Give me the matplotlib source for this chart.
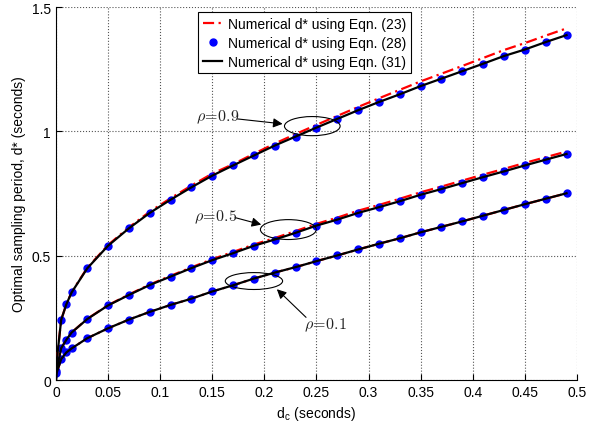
import matplotlib as mpl
import matplotlib.pyplot as plt
from matplotlib.patches import Ellipse

# sampled delay values, d_c [s]
d_c = [0.0005, 0.005, 0.01, 0.015, 0.03, 0.05, 0.07, 0.09, 0.11, 0.13, 0.15,
       0.17, 0.19, 0.21, 0.23, 0.25, 0.27, 0.29, 0.31, 0.33, 0.35, 0.37,
       0.39, 0.41, 0.43, 0.45, 0.47, 0.49]

# optimal sampling period d* (eqn 31 / eqn 28 points)
d_09 = [0.068, 0.242, 0.305, 0.352, 0.449, 0.540, 0.610, 0.672, 0.725, 0.775,
        0.822, 0.863, 0.903, 0.943, 0.979, 1.015, 1.050, 1.085, 1.118, 1.149,
        1.182, 1.212, 1.242, 1.272, 1.303, 1.329, 1.359, 1.387]
d_05 = [0.037, 0.128, 0.162, 0.191, 0.245, 0.300, 0.342, 0.382, 0.416, 0.450,
        0.482, 0.510, 0.540, 0.565, 0.592, 0.621, 0.645, 0.672, 0.695, 0.719,
        0.745, 0.768, 0.792, 0.816, 0.839, 0.863, 0.886, 0.909]
d_01 = [0.027, 0.084, 0.111, 0.127, 0.168, 0.208, 0.243, 0.274, 0.302, 0.327,
        0.356, 0.381, 0.408, 0.432, 0.454, 0.478, 0.501, 0.525, 0.548, 0.570,
        0.594, 0.616, 0.638, 0.661, 0.684, 0.707, 0.729, 0.751]

# eqn 23 (slightly above for large d_c)
e23_09 = [0.068, 0.242, 0.305, 0.353, 0.451, 0.543, 0.614, 0.677, 0.731, 0.782,
          0.830, 0.868, 0.910, 0.951, 0.989, 1.026, 1.062, 1.098, 1.133, 1.167,
          1.201, 1.232, 1.263, 1.295, 1.327, 1.355, 1.385, 1.414]
e23_05 = [0.037, 0.128, 0.162, 0.191, 0.246, 0.301, 0.344, 0.384, 0.419, 0.453,
          0.486, 0.515, 0.545, 0.571, 0.599, 0.628, 0.653, 0.681, 0.704, 0.729,
          0.755, 0.778, 0.802, 0.826, 0.849, 0.873, 0.896, 0.919]
e23_01 = d_01

curves = [(e23_09, d_09), (e23_05, d_05), (e23_01, d_01)]

mpl.rcParams['font.family'] = 'Liberation Sans'
mpl.rcParams['mathtext.fontset'] = 'cm'

fig = plt.figure(figsize=(5.98, 4.35), dpi=100)
ax = fig.add_axes([0.0936, 0.1241, 0.8712, 0.8575])

for i, (e23, d) in enumerate(curves):
    ax.plot(d_c, e23, color='red', lw=1.6, zorder=3, dashes=(5, 2, 1, 2),
            label='Numerical d* using Eqn. (23)' if i == 0 else None)
    ax.plot(d_c, d, 'o', color='blue', ms=5, mec='blue', zorder=4,
            label='Numerical d* using Eqn. (28)' if i == 0 else None)
    ax.plot([0] + d_c, [0] + d, '-', color='black', lw=1.6, zorder=5,
            label='Numerical d* using Eqn. (31)' if i == 0 else None)

# annotations: ellipse + arrow + label
notes = [
    (r'$\rho\!=\!0.9$', (0.155, 1.062), (0.174, 1.050), (0.2175, 1.030), (0.246, 1.021), 0.0534, 0.077),
    (r'$\rho\!=\!0.5$', (0.153, 0.657), (0.172, 0.653), (0.197, 0.625), (0.223, 0.605), 0.0536, 0.080),
    (r'$\rho\!=\!0.1$', (0.259, 0.224), (0.240, 0.252), (0.212, 0.365), (0.190, 0.398), 0.055, 0.068),
]
for txt, tpos, a0, a1, c, w, h in notes:
    ax.add_patch(Ellipse(c, w, h, fill=False, ec='black', lw=0.8, zorder=6))
    ax.annotate('', xy=a1, xytext=a0, zorder=6,
                arrowprops=dict(arrowstyle='-|>', color='black', lw=0.8,
                                mutation_scale=14, shrinkA=0, shrinkB=0))
    ax.text(tpos[0], tpos[1], txt, ha='center', va='center', fontsize=11.5,
            color='#222222', zorder=6)

ax.set_xlim(0, 0.5)
ax.set_ylim(0, 1.5)
ax.set_xticks([0, 0.05, 0.1, 0.15, 0.2, 0.25, 0.3, 0.35, 0.4, 0.45, 0.5])
ax.set_xticklabels(['0', '0.05', '0.1', '0.15', '0.2', '0.25', '0.3', '0.35', '0.4', '0.45', '0.5'])
ax.set_yticks([0, 0.5, 1, 1.5])
ax.set_yticklabels(['0', '0.5', '1', '1.5'])
ax.tick_params(direction='in', labelsize=10, length=4, width=0.8)
ax.spines['top'].set_visible(False)
ax.spines['right'].set_visible(False)
ax.grid(True, linestyle=':', color='#555555', lw=0.8)
ax.set_axisbelow(True)

ax.set_xlabel(r'd$_\mathregular{c}$ (seconds)', fontsize=10)
ax.set_ylabel('Optimal sampling period, d* (seconds)', fontsize=10)

leg = ax.legend(loc='upper left', bbox_to_anchor=(0.2726, 0.9866),
                borderaxespad=0, fancybox=False, framealpha=1,
                edgecolor='black', fontsize=10, handlelength=1.4,
                handletextpad=0.4, borderpad=0.35, labelspacing=0.35)
leg.get_frame().set_linewidth(0.8)

plt.savefig('out.png', dpi=100)
